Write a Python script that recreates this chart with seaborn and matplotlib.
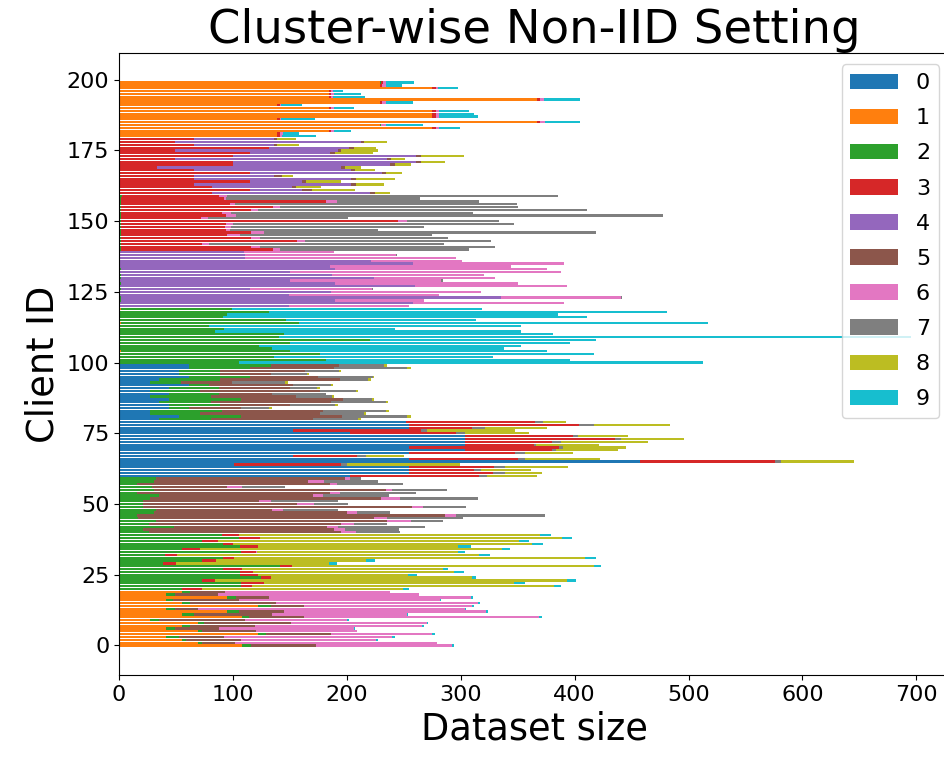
import matplotlib
matplotlib.use("Agg")
import matplotlib.pyplot as plt
from matplotlib.patches import Patch
import pandas as pd
import seaborn as sns

# ---------------- data (dataset size per class for each client) ----------------
class_labels = ["0", "1", "2", "3", "4", "5", "6", "7", "8", "9"]
clients_per_cluster = 20

# clients 0-19
cluster_0 = {
    "1": [108, 69, 55, 41, 122, 69, 41, 55, 69, 27, 108, 55, 95, 41, 122, 55, 41, 95, 41, 55],
    "2": [8, 4, 4, 12, 7, 4, 8, 7, 6, 8, 6, 11, 10, 8, 11, 7, 6, 8, 8, 7],
    "5": [57, 29, 48, 39, 57, 47, 39, 57, 76, 76, 48, 68, 40, 20, 29, 76, 58, 29, 38, 31],
    "6": [119, 177, 119, 148, 89, 89, 118, 147, 119, 89, 207, 119, 177, 235, 148, 177, 177, 177, 176, 145],
    "9": [2, 0, 1, 2, 2, 0, 1, 2, 1, 2, 2, 1, 2, 1, 2, 2, 1, 2, 0, 0],
}
# clients 20-39
cluster_1 = {
    "0": [1, 1, 1, 1, 1, 1, 1, 1, 1, 1, 1, 1, 1, 1, 1, 1, 1, 1, 1, 1],
    "2": [54, 106, 106, 72, 124, 105, 105, 90, 140, 38, 72, 90, 39, 106, 54, 105, 90, 72, 104, 89],
    "3": [18, 10, 20, 11, 8, 16, 12, 17, 11, 11, 12, 10, 11, 13, 16, 16, 9, 14, 19, 15],
    "6": [0, 0, 0, 0, 0, 0, 0, 0, 0, 0, 0, 0, 0, 1, 0, 0, 0, 0, 0, 0],
    "8": [176, 265, 220, 309, 177, 132, 176, 176, 265, 134, 132, 308, 265, 177, 265, 176, 263, 264, 265, 265],
    "9": [6, 6, 9, 8, 3, 8, 9, 5, 6, 7, 8, 10, 10, 6, 7, 11, 9, 9, 9, 9],
}
# clients 40-59
cluster_2 = {
    "1": [0, 0, 1, 0, 1, 1, 0, 0, 1, 0, 0, 0, 1, 0, 0, 0, 1, 0, 0, 1],
    "2": [26, 21, 47, 26, 31, 16, 16, 31, 31, 21, 21, 21, 26, 35, 16, 31, 28, 16, 31, 31],
    "5": [169, 168, 135, 169, 203, 207, 270, 169, 102, 236, 135, 102, 203, 135, 169, 203, 66, 169, 135, 166],
    "6": [13, 9, 9, 11, 21, 11, 10, 9, 10, 10, 15, 10, 17, 9, 9, 6, 13, 6, 14, 5],
    "7": [39, 48, 77, 29, 28, 67, 78, 29, 48, 38, 30, 59, 68, 58, 67, 48, 38, 58, 47, 9],
}
# clients 60-79
cluster_3 = {
    "0": [203, 255, 255, 255, 101, 457, 255, 153, 255, 304, 255, 304, 304, 304, 304, 203, 153, 255, 255, 252],
    "3": [113, 73, 57, 74, 94, 119, 95, 56, 93, 76, 131, 60, 76, 131, 95, 93, 112, 55, 149, 113],
    "7": [7, 11, 6, 10, 5, 5, 6, 8, 8, 4, 4, 2, 8, 6, 4, 8, 5, 11, 13, 7],
    "8": [44, 32, 44, 55, 99, 64, 66, 33, 43, 54, 55, 55, 76, 55, 44, 56, 78, 55, 67, 20],
}
# clients 80-99
cluster_4 = {
    "0": [35, 53, 27, 27, 44, 44, 35, 44, 27, 44, 27, 44, 61, 27, 35, 61, 53, 53, 61, 61],
    "2": [46, 54, 44, 63, 17, 45, 46, 63, 54, 44, 44, 44, 18, 27, 54, 54, 36, 36, 54, 72],
    "5": [89, 89, 105, 89, 46, 61, 105, 90, 74, 46, 105, 62, 74, 45, 105, 60, 44, 74, 74, 60],
    "7": [40, 57, 39, 55, 25, 40, 48, 25, 32, 48, 32, 24, 33, 47, 25, 48, 32, 30, 64, 40],
    "8": [2, 3, 2, 3, 2, 2, 2, 2, 2, 0, 2, 2, 2, 2, 2, 1, 2, 2, 3, 2],
}
# clients 100-119
cluster_5 = {
    "1": [0, 0, 0, 0, 2, 0, 0, 0, 0, 0, 0, 0, 0, 0, 2, 0, 0, 0, 0, 2],
    "2": [105, 182, 136, 176, 148, 134, 123, 150, 220, 140, 145, 84, 92, 79, 156, 147, 91, 95, 132, 97],
    "9": [408, 214, 192, 241, 226, 204, 230, 246, 199, 555, 236, 269, 150, 274, 359, 166, 320, 290, 349, 220],
}
# clients 120-139
cluster_6 = {
    "2": [0, 0, 2, 2, 0, 0, 2, 0, 2, 0, 2, 2, 0, 2, 0, 0, 0, 0, 0, 0],
    "4": [149, 258, 188, 333, 149, 186, 113, 260, 188, 150, 222, 185, 150, 188, 185, 258, 221, 111, 111, 110],
    "6": [106, 133, 78, 106, 132, 132, 107, 133, 160, 133, 106, 133, 238, 186, 159, 133, 80, 185, 132, 79],
    "7": [0, 0, 0, 1, 0, 0, 1, 0, 0, 1, 0, 0, 0, 0, 0, 0, 0, 0, 1, 0],
}
# clients 140-159
cluster_7 = {
    "2": [2, 2, 2, 2, 2, 2, 2, 2, 2, 2, 2, 2, 2, 2, 2, 2, 2, 2, 2, 3],
    "3": [133, 114, 71, 154, 114, 93, 114, 92, 91, 92, 243, 70, 92, 88, 114, 133, 95, 180, 90, 85],
    "6": [6, 8, 6, 7, 8, 11, 11, 3, 5, 6, 8, 6, 9, 8, 6, 6, 5, 9, 2, 7],
    "7": [166, 206, 206, 164, 165, 169, 292, 130, 170, 247, 81, 123, 375, 213, 289, 209, 247, 125, 170, 290],
}
# clients 160-179
cluster_8 = {
    "3": [82, 115, 82, 66, 115, 66, 66, 115, 66, 33, 100, 100, 49, 100, 115, 49, 132, 66, 49, 66],
    "4": [138, 46, 70, 138, 46, 138, 70, 116, 138, 162, 138, 161, 186, 161, 70, 143, 70, 70, 163, 70],
    "5": [5, 8, 3, 4, 3, 4, 7, 3, 3, 3, 4, 4, 4, 4, 5, 3, 4, 3, 3, 3],
    "8": [13, 38, 22, 25, 31, 34, 10, 14, 18, 14, 14, 21, 12, 38, 33, 32, 20, 19, 20, 16],
}
# clients 180-199
cluster_9 = {
    "1": [139, 139, 184, 275, 229, 367, 139, 275, 275, 275, 184, 139, 229, 367, 184, 184, 184, 275, 229, 229],
    "2": [0, 0, 0, 0, 1, 0, 0, 0, 0, 0, 0, 0, 0, 0, 0, 0, 0, 0, 0, 1],
    "3": [2, 2, 2, 3, 0, 3, 2, 3, 3, 3, 2, 2, 2, 3, 2, 2, 2, 3, 2, 2],
    "6": [2, 3, 3, 3, 4, 4, 1, 3, 3, 3, 3, 1, 3, 3, 2, 3, 2, 2, 3, 2],
    "9": [30, 14, 15, 18, 33, 31, 30, 34, 31, 26, 17, 19, 24, 32, 28, 23, 9, 18, 14, 25],
}

clusters = [cluster_0, cluster_1, cluster_2, cluster_3, cluster_4,
            cluster_5, cluster_6, cluster_7, cluster_8, cluster_9]

# ---------------- long-form table ----------------
records = []
for k, cl in enumerate(clusters):
    for cls in class_labels:
        vals = cl.get(cls)
        if vals is None:
            continue
        for j, v in enumerate(vals):
            records.append({"client": k * clients_per_cluster + j, "cls": cls, "size": v})
df = pd.DataFrame(records)

colors = plt.get_cmap("tab10").colors
palette = {c: colors[i] for i, c in enumerate(class_labels)}

# ---------------- plot ----------------
plt.rcParams["font.family"] = ["DejaVu Sans"]
fig = plt.figure(figsize=(9.45, 7.6), dpi=100)
# the axes runs slightly past the right edge of the canvas, as in the reference
ax = fig.add_axes([0.126, 0.112, 0.8795, 0.818])

sns.histplot(
    data=df, y="client", weights="size", hue="cls",
    hue_order=class_labels[::-1], palette=palette,
    multiple="stack", discrete=True, shrink=0.8,
    alpha=1.0, linewidth=0, edgecolor="none", legend=False, ax=ax,
)

ax.set_title("Cluster-wise Non-IID Setting", fontsize=33.5)
ax.set_xlabel("Dataset size", fontsize=26.5)
ax.set_ylabel("Client ID", fontsize=26.5)
ax.tick_params(axis="both", labelsize=16)

handles = [Patch(facecolor=palette[c], label=c) for c in class_labels]
ax.legend(handles=handles, loc="upper right", fontsize=16,
          labelspacing=0.68, handlelength=2.15)

fig.savefig("out.png", dpi=100)
